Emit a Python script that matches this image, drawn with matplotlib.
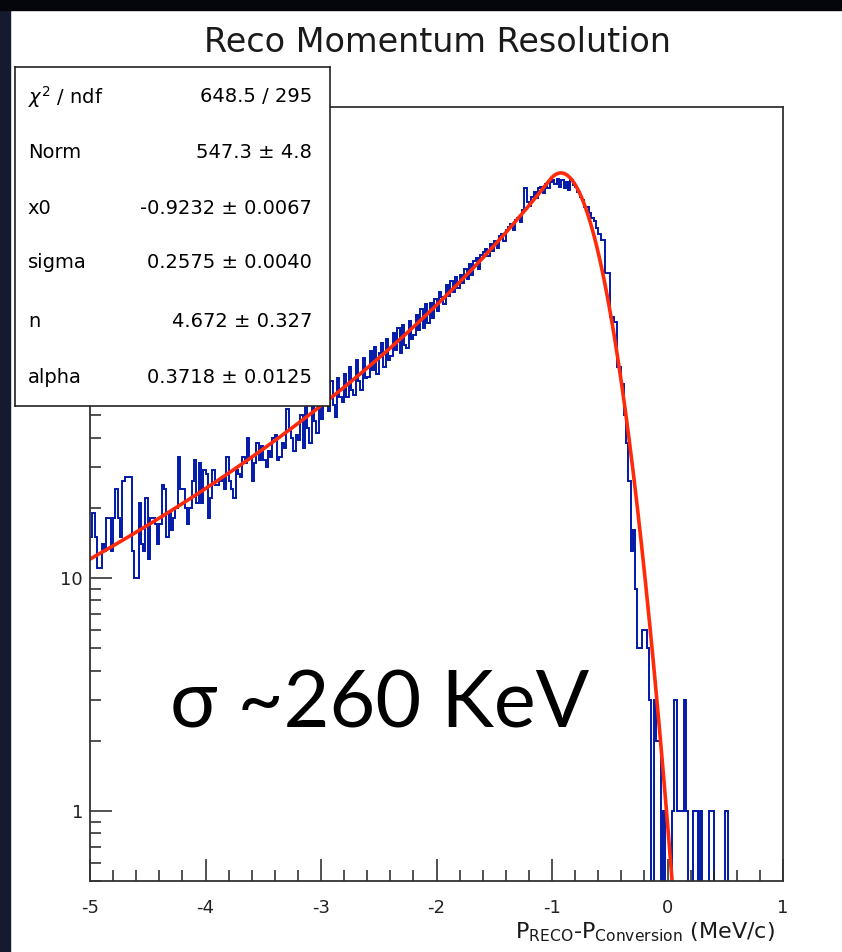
import numpy as np
import matplotlib
matplotlib.use("Agg")
import matplotlib.pyplot as plt
from matplotlib.patches import Rectangle
from matplotlib.ticker import FixedLocator, MultipleLocator, FuncFormatter, NullFormatter

# histogram: 300 bins of 0.02 MeV/c between -5 and 1 (counts)
x_lo, x_hi, n_bins = -5.0, 1.0, 300
counts = [
    15, 19, 15, 11, 11, 14, 13, 18, 18, 13,
    18, 24, 18, 15, 26, 27, 27, 27, 13, 10,
    10, 21, 14, 13, 22, 12, 18, 18, 17, 14,
    17, 25, 24, 15, 19, 16, 18, 20, 33, 24,
    24, 20, 17, 20, 26, 32, 21, 31, 21, 29,
    28, 18, 22, 29, 25, 25, 26, 27, 24, 33,
    26, 24, 22, 29, 28, 27, 33, 31, 40, 33,
    26, 31, 38, 32, 37, 32, 30, 35, 33, 40,
    41, 32, 33, 38, 36, 53, 44, 40, 35, 41,
    39, 50, 36, 56, 44, 38, 60, 47, 42, 63,
    48, 62, 67, 52, 70, 55, 49, 72, 60, 57,
    75, 60, 80, 64, 61, 86, 70, 64, 88, 72,
    73, 94, 78, 98, 75, 92, 102, 80, 106, 86,
    90, 112, 95, 118, 92, 122, 100, 97, 127, 106,
    110, 135, 116, 143, 118, 150, 124, 152, 130, 158,
    140, 168, 160, 150, 180, 162, 188, 168, 196, 176,
    200, 184, 212, 192, 222, 200, 230, 236, 212, 244,
    250, 258, 240, 272, 252, 280, 260, 292, 298, 278,
    310, 322, 330, 312, 342, 352, 336, 380, 470, 410,
    395, 430, 452, 428, 470, 478, 448, 492, 470, 500,
    512, 490, 515, 478, 508, 470, 500, 462, 510, 488,
    478, 452, 431, 418, 391, 392, 370, 352, 340, 318,
    300, 282, 282, 204, 204, 132, 132, 125, 80, 80,
    68, 50, 38, 26, 13, 16, 9, 5, 5, 6,
    6, 5, 3, 0, 3, 2, 2, 0, 1, 0,
    0, 0, 1, 3, 1, 1, 1, 3, 1, 0,
    0, 1, 1, 0, 1, 0, 0, 0, 1, 1,
    0, 0, 0, 0, 0, 1, 0, 0, 0, 0,
    0, 0, 0, 0, 0, 0, 0, 0, 0, 0,
    0, 0, 0, 0, 0, 0, 0, 0, 0, 0,
]

# fit result from the stats box (Crystal Ball)
norm, x0, sigma, n_cb, alpha = 547.3, -0.9232, 0.2575, 4.672, 0.3718
stat_names = [r'$\chi^2$ / ndf', 'Norm', 'x0', 'sigma', 'n', 'alpha']
stat_values = ['648.5 / 295', '547.3 \u00b1 4.8', '-0.9232 \u00b1 0.0067',
               '0.2575 \u00b1 0.0040', '4.672 \u00b1 0.327', '0.3718 \u00b1 0.0125']


def crystal_ball(x, norm, x0, sigma, n, alpha):
    t = (x - x0) / sigma
    a = abs(alpha)
    A = (n / a) ** n * np.exp(-a * a / 2)
    B = n / a - a
    tail = A * np.maximum(B - t, 1e-9) ** (-n)
    return norm * np.where(t > -a, np.exp(-t * t / 2), tail)


W, H = 842, 952
fig = plt.figure(figsize=(W / 100, H / 100), dpi=100, facecolor='white')

# dark slide edges
fig.add_artist(Rectangle((0, 0), 10 / W, 1, transform=fig.transFigure,
                         color='#161a2e', zorder=0))
fig.add_artist(Rectangle((0, 1 - 10 / H), 1, 10 / H, transform=fig.transFigure,
                         color='#05060c', zorder=0))

ax = fig.add_axes([90 / W, 71 / H, 693 / W, 774 / H])
edges = np.linspace(x_lo, x_hi, n_bins + 1)
c = np.array(counts, dtype=float)
c_draw = np.where(c > 0, c, 1e-3)
ax.stairs(c_draw, edges, color='#0018a8', lw=1.4, baseline=None)

xf = np.linspace(-5, 0.3, 1500)
ax.plot(xf, crystal_ball(xf, norm, x0, sigma, n_cb, alpha), color='#ff2a0a', lw=2.6)

ax.set_yscale('log')
ax.set_xlim(x_lo, x_hi)
ax.set_ylim(0.5, 1050)

ax.xaxis.set_major_locator(MultipleLocator(1))
ax.xaxis.set_minor_locator(MultipleLocator(0.2))
ax.xaxis.set_major_formatter(FuncFormatter(lambda v, p: '%g' % v))
ax.yaxis.set_major_locator(FixedLocator([1, 10, 100, 1000]))
# labels for 100 and 1000 sit under the stats box in the original
ax.yaxis.set_major_formatter(FuncFormatter(lambda v, p: '%g' % v if v < 50 else ''))
minor_y = [m * d for d in [0.1, 1, 10, 100] for m in range(2, 10)]
ax.yaxis.set_minor_locator(FixedLocator(minor_y))
ax.yaxis.set_minor_formatter(NullFormatter())

ax.tick_params(which='both', direction='in', top=False, right=False,
               width=1.1, color='#222222', labelcolor='#222222', labelsize=13)
ax.tick_params(which='major', length=16)
ax.tick_params(which='minor', length=8)
ax.tick_params(axis='x', pad=13)
ax.tick_params(axis='y', pad=5)
for s in ax.spines.values():
    s.set_linewidth(1.3)
    s.set_color('#333333')

fig.text(438 / W, 1 - 42 / H, 'Reco Momentum Resolution', ha='center', va='center',
         fontsize=24, color='#1a1a1a')
fig.text(775 / W, 1 - 932 / H,
         r'P$_{\mathregular{RECO}}$-P$_{\mathregular{Conversion}}$ (MeV/c)',
         ha='right', va='center', fontsize=16, color='#1a1a1a')

# stats box
sb = fig.add_axes([15 / W, (H - 406) / H, 315 / W, 339 / H])
sb.set_xticks([])
sb.set_yticks([])
for s in sb.spines.values():
    s.set_linewidth(1.2)
    s.set_color('#222222')
rows_y = [0.912, 0.749, 0.584, 0.422, 0.248, 0.085]
for name, val, yy in zip(stat_names, stat_values, rows_y):
    sb.text(0.041, yy, name, ha='left', va='center', fontsize=14, transform=sb.transAxes)
    sb.text(0.943, yy, val, ha='right', va='center', fontsize=14, transform=sb.transAxes)

fig.text(170 / W, 1 - 705 / H, '\u03c3 ~260 KeV', ha='left', va='center',
         fontsize=57, family=['Lato', 'DejaVu Sans'], color='black')

fig.savefig('out.png', dpi=100)
